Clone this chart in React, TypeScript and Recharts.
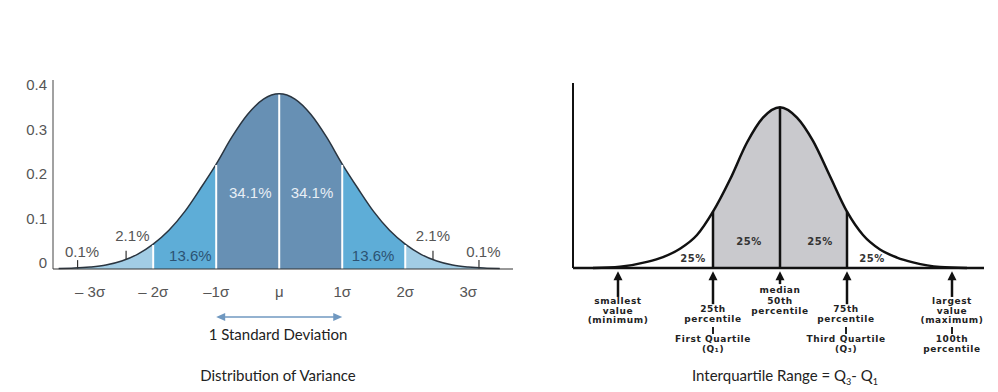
import React from 'react'
import {
  ComposedChart, Area, XAxis, YAxis, ReferenceLine, ReferenceDot,
} from 'recharts'

// left panel: normal curve, x in sigma units
const sigmaX = [-3.5, -3.25, -3, -2.75, -2.5, -2.25, -2, -1.75, -1.5, -1.25, -1, -0.75, -0.5, -0.25, 0, 0.25, 0.5, 0.75, 1, 1.25, 1.5, 1.75, 2, 2.25, 2.5, 2.75, 3, 3.25, 3.5]
const density = [-0.013, -0.012, -0.0095, -0.005, 0.004, 0.019, 0.042, 0.073, 0.115, 0.167, 0.222, 0.283, 0.334, 0.368, 0.38, 0.368, 0.334, 0.283, 0.222, 0.167, 0.115, 0.073, 0.042, 0.019, 0.004, -0.005, -0.0095, -0.012, -0.013]
const sigmaTicks = [-3, -2, -1, 0, 1, 2, 3]
const sigmaLabels = ['– 3σ', '– 2σ', '–1σ', 'μ', '1σ', '2σ', '3σ']
const densityTicks = [0, 0.1, 0.2, 0.3, 0.4]
const bandEdges = [-2, -1, 0, 1, 2]
const bandColors = ['#a2cde5', '#5eadd7', '#6790b4', '#6790b4', '#5eadd7', '#a2cde5']
const shareLabels = ['0.1%', '2.1%', '13.6%', '34.1%', '34.1%', '13.6%', '2.1%', '0.1%']
const shareX = [-3.13, -2.33, -1.41, -0.46, 0.52, 1.49, 2.44, 3.24]
const shareY = [0.024, 0.06, 0.015, 0.157, 0.157, 0.015, 0.06, 0.024]
const shareColors = ['#555', '#555', '#2c5373', '#e8eef5', '#e8eef5', '#2c5373', '#555', '#555']
const tailTickX = [-3.2, -2.43, 2.44, 3.17]
const tailTickLow = [-0.013, 0.006, 0.006, -0.013]
const tailTickHigh = [0.006, 0.027, 0.027, 0.006]

// right panel: quartiles, x in arbitrary units (median = 0)
const spreadX = [-1.87, -1.6, -1.33, -1.17, -1, -0.83, -0.67, -0.5, -0.33, -0.17, 0, 0.17, 0.33, 0.5, 0.67, 0.83, 1, 1.17, 1.33, 1.6, 1.87]
const spreadY = [0, 0.008, 0.038, 0.068, 0.12, 0.205, 0.35, 0.55, 0.78, 0.935, 1, 0.935, 0.79, 0.57, 0.35, 0.205, 0.115, 0.065, 0.035, 0.006, 0]
const quartileX = [-0.67, 0, 0.67]
const quarterX = [-0.87, -0.31, 0.4, 0.92]
const quarterY = [0.062, 0.168, 0.168, 0.062]
const arrowX = [-1.62, -0.67, 0, 0.67, 1.72]
const arrowEnd = [-0.18, -0.225, -0.1, -0.225, -0.18]

const sigmaData = sigmaX.map((x, i) => ({ x, y: density[i] }))
const spreadData = spreadX.map((x, i) => ({ x, y: spreadY[i] }))

const helv = '"Liberation Sans", Arial, sans-serif'
const calibri = 'Lato, "Open Sans", sans-serif'

const xMin = sigmaX[0]
const xMax = sigmaX[sigmaX.length - 1]
const bandStops = bandColors.flatMap((c, i) => {
  const a = i === 0 ? xMin : bandEdges[i - 1]
  const b = i === bandColors.length - 1 ? xMax : bandEdges[i]
  return [
    { off: (a - xMin) / (xMax - xMin), c },
    { off: (b - xMin) / (xMax - xMin), c },
  ]
})
const sMin = spreadX[0]
const sMax = spreadX[spreadX.length - 1]
const q1Off = (quartileX[0] - sMin) / (sMax - sMin)
const q3Off = (quartileX[2] - sMin) / (sMax - sMin)

const valueAt = (xs: number[], ys: number[], x: number) => ys[xs.indexOf(x)]

function UpArrow(p: any) {
  const { x1, y1, y2 } = p
  return (
    <g>
      <line x1={x1} y1={y1 + 7} x2={x1} y2={y2} stroke="#111" strokeWidth={2.5} />
      <polygon points={`${x1},${y1} ${x1 - 4.5},${y1 + 9} ${x1 + 4.5},${y1 + 9}`} fill="#111" />
    </g>
  )
}

function DoubleArrow(p: any) {
  const { x1, y1, x2 } = p
  const c = '#7098c0'
  return (
    <g>
      <line x1={x1 + 6} y1={y1} x2={x2 - 6} y2={y1} stroke={c} strokeWidth={1.5} />
      <polygon points={`${x1},${y1} ${x1 + 9},${y1 - 4} ${x1 + 9},${y1 + 4}`} fill={c} />
      <polygon points={`${x2},${y1} ${x2 - 9},${y1 - 4} ${x2 - 9},${y1 + 4}`} fill={c} />
    </g>
  )
}

const noteStyle: React.CSSProperties = {
  position: 'absolute', width: 120, textAlign: 'center',
  fontFamily: '"DejaVu Sans", sans-serif', fontWeight: 700, fontSize: 9,
  lineHeight: '9.5px', letterSpacing: 0.6, color: '#222', whiteSpace: 'nowrap',
}

const notes = [
  { cx: 618, top: 297, lines: ['smallest', 'value', '(minimum)'] },
  { cx: 713, top: 305, lines: ['25th', 'percentile'] },
  { cx: 713, top: 335, lines: ['First Quartile', '(Q₁)'] },
  { cx: 780, top: 286, lines: ['median'] },
  { cx: 780, top: 297, lines: ['50th', 'percentile'] },
  { cx: 846, top: 305, lines: ['75th', 'percentile'] },
  { cx: 846, top: 335, lines: ['Third Quartile', '(Q₃)'] },
  { cx: 952, top: 297, lines: ['largest', 'value', '(maximum)'] },
  { cx: 952, top: 335, lines: ['100th', 'percentile'] },
]
const barsX = [713, 846, 952]

function SigmaChart() {
  return (
    <ComposedChart width={530} height={392} data={sigmaData} margin={{ top: 80, right: 17, bottom: 93, left: 8 }}>
      <defs>
        <linearGradient id="sigmaFill" x1="0" y1="0" x2="1" y2="0">
          {bandStops.map((s, i) => <stop key={i} offset={s.off} stopColor={s.c} />)}
        </linearGradient>
      </defs>
      <XAxis
        dataKey="x" type="number" domain={[-3.59, 3.71]} ticks={sigmaTicks} interval={0}
        tickFormatter={(v: number) => sigmaLabels[sigmaTicks.indexOf(v)]}
        tickLine={false} tickMargin={11} height={30}
        tick={{ fill: '#555', fontSize: 15, fontFamily: helv }}
        axisLine={{ stroke: '#333' }}
      />
      <YAxis
        type="number" domain={[-0.014, 0.411]} ticks={densityTicks} interval={0}
        tickLine={false} tickMargin={0} width={45}
        tick={{ fill: '#555', fontSize: 15, fontFamily: helv }}
        axisLine={{ stroke: '#444' }}
      />
      <Area
        type="monotone" dataKey="y" baseValue="dataMin" stroke="#2a3540" strokeWidth={1.5}
        fill="url(#sigmaFill)" fillOpacity={1} dot={false} activeDot={false} isAnimationActive={false}
      />
      {bandEdges.map((e) => (
        <ReferenceLine
          key={e} stroke="#fff" strokeWidth={2}
          segment={[{ x: e, y: -0.014 }, { x: e, y: valueAt(sigmaX, density, e) - 0.002 }]}
        />
      ))}
      {tailTickX.map((x, i) => (
        <ReferenceLine
          key={'t' + i} stroke="#333" strokeWidth={1.2}
          segment={[{ x, y: tailTickLow[i] }, { x, y: tailTickHigh[i] }]}
        />
      ))}
      {shareLabels.map((l, i) => (
        <ReferenceDot
          key={'s' + i} x={shareX[i]} y={shareY[i]} r={0} fill="none" stroke="none"
          label={{ value: l, position: 'center', fill: shareColors[i], fontSize: 15, fontFamily: helv }}
        />
      ))}
      <ReferenceLine
        ifOverflow="visible" segment={[{ x: -1, y: -0.122 }, { x: 1, y: -0.122 }]}
        shape={DoubleArrow}
      />
    </ComposedChart>
  )
}

function QuartileChart() {
  return (
    <ComposedChart width={458} height={392} data={spreadData} margin={{ top: 83, right: 14, bottom: 114, left: 32 }}>
      <defs>
        <linearGradient id="iqrFill" x1="0" y1="0" x2="1" y2="0">
          <stop offset={0} stopColor="#fff" stopOpacity={0} />
          <stop offset={q1Off} stopColor="#fff" stopOpacity={0} />
          <stop offset={q1Off} stopColor="#c9c9cd" />
          <stop offset={q3Off} stopColor="#c9c9cd" />
          <stop offset={q3Off} stopColor="#fff" stopOpacity={0} />
          <stop offset={1} stopColor="#fff" stopOpacity={0} />
        </linearGradient>
      </defs>
      <XAxis
        dataKey="x" type="number" domain={[-2.07, 2.04]} tick={false} tickLine={false} height={10}
        axisLine={{ stroke: '#111', strokeWidth: 2.5 }}
      />
      <YAxis
        type="number" domain={[0, 1.15]} tick={false} tickLine={false} width={1}
        axisLine={{ stroke: '#111', strokeWidth: 2 }}
      />
      <Area
        type="monotone" dataKey="y" stroke="#111" strokeWidth={2.5}
        fill="url(#iqrFill)" fillOpacity={1} dot={false} activeDot={false} isAnimationActive={false}
      />
      {quartileX.map((q) => (
        <ReferenceLine
          key={q} stroke="#111" strokeWidth={2.5}
          segment={[{ x: q, y: 0 }, { x: q, y: valueAt(spreadX, spreadY, q) }]}
        />
      ))}
      {quarterX.map((x, i) => (
        <ReferenceDot
          key={'q' + i} x={x} y={quarterY[i]} r={0} fill="none" stroke="none"
          label={{ value: '25%', position: 'center', fill: '#333', fontSize: 10, fontWeight: 700, fontFamily: '"DejaVu Sans", sans-serif', letterSpacing: 0.5 }}
        />
      ))}
      {arrowX.map((x, i) => (
        <ReferenceLine
          key={'a' + i} ifOverflow="visible"
          segment={[{ x, y: -0.02 }, { x, y: arrowEnd[i] }]}
          shape={UpArrow}
        />
      ))}
    </ComposedChart>
  )
}

export default function App() {
  return (
    <div style={{ position: 'absolute', left: 0, top: 0, width: 998, height: 392, background: '#fff', overflow: 'hidden' }}>
      <div style={{ position: 'absolute', left: 0, top: 0 }}>
        <SigmaChart />
      </div>
      <div style={{ position: 'absolute', left: 540, top: 0 }}>
        <QuartileChart />
      </div>
      <div style={{ position: 'absolute', left: 278, top: 325, transform: 'translateX(-50%)', fontFamily: calibri, fontSize: 15, color: '#222', whiteSpace: 'nowrap' }}>
        1 Standard Deviation
      </div>
      <div style={{ position: 'absolute', left: 278, top: 366, transform: 'translateX(-50%)', fontFamily: calibri, fontSize: 15, color: '#222', whiteSpace: 'nowrap' }}>
        Distribution of Variance
      </div>
      <div style={{ position: 'absolute', left: 785, top: 366, transform: 'translateX(-50%)', fontFamily: calibri, fontSize: 15, color: '#222', whiteSpace: 'nowrap' }}>
        Interquartile Range = Q<sub style={{ fontSize: 9 }}>3</sub>- Q<sub style={{ fontSize: 9 }}>1</sub>
      </div>
      {notes.map((n, i) => (
        <div key={i} style={{ ...noteStyle, left: n.cx - 60, top: n.top }}>
          {n.lines.map((l) => <div key={l}>{l}</div>)}
        </div>
      ))}
      {barsX.map((x) => (
        <div key={x} style={{ position: 'absolute', left: x - 1.25, top: 327, width: 2.5, height: 7, background: '#222' }} />
      ))}
    </div>
  )
}
